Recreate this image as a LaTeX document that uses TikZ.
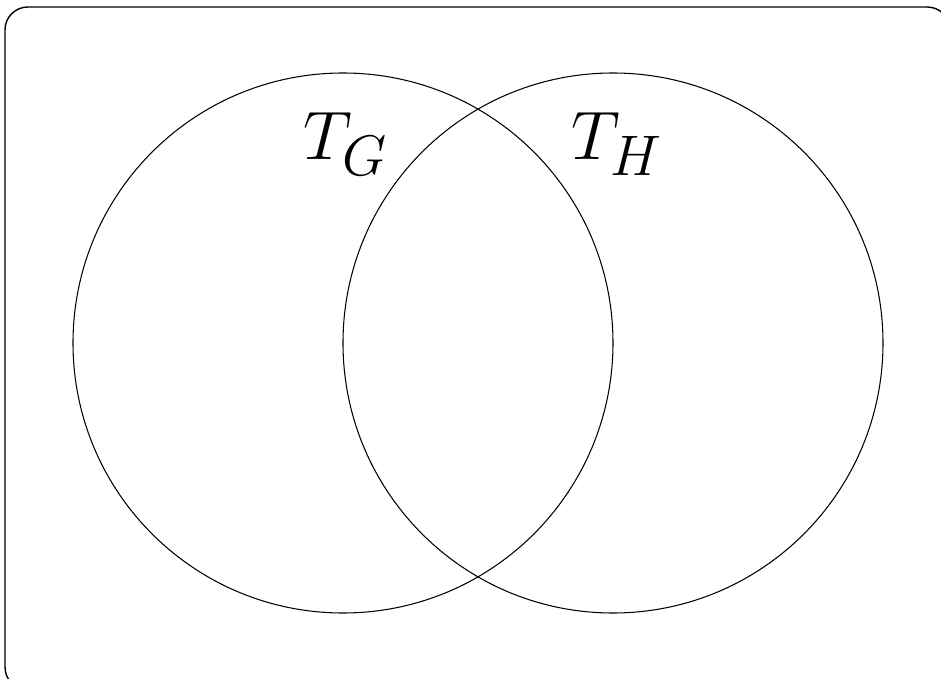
\documentclass[tikz,border=0pt]{standalone}
\tikzset{
  setcircle/.style={draw, line width=0.6pt},
  setlabel/.style={anchor=base west, inner sep=0pt, font=\Huge, scale=1.57}
}
\begin{document}
\begin{tikzpicture}[x=0.02cm, y=-0.02cm]
    % Page area
    \clip (0,0) rectangle (941,679);
    % Outer frame
    \draw[line width=0.8pt, rounded corners=13] (5,7) rectangle (950,690);
    % Left set
    \draw[setcircle] (343,343) circle (270);
    \coordinate (cG) at (343,343);
    % Right set
    \draw[setcircle] (613,343) circle (270);
    \coordinate (cH) at (613,343);
    % Set labels
    \node[setlabel] (lblG) at (303,160) {$T_G$};
    \node[setlabel] (lblH) at (571,160) {$T_H$};
  \end{tikzpicture}
\end{document}
